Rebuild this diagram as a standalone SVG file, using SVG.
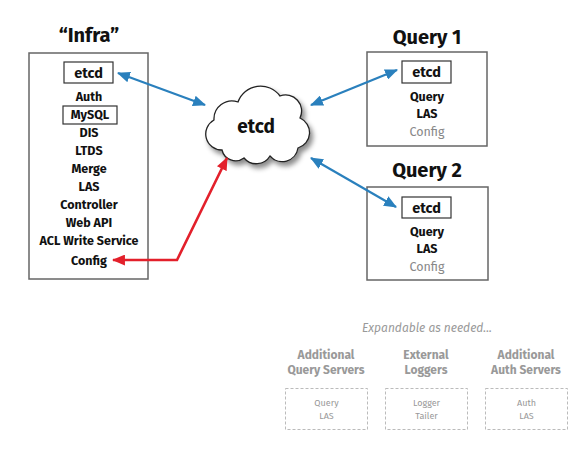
<svg xmlns="http://www.w3.org/2000/svg" width="582" height="450" viewBox="0 0 582 450">
<style>
text{font-family:"Fira Sans","Noto Sans","Liberation Sans",sans-serif;text-anchor:middle;font-weight:bold;fill:#111}
.title{font-size:20px}
.item{font-size:12.5px}
.etcd{font-size:14.5px}
.dim{font-weight:normal;fill:#888}
.box{fill:#fff;stroke:#666;stroke-width:1.5}
.ibox{fill:#fff;stroke:#333;stroke-width:1.2}
.gh{font-size:12px;fill:#999}
.dash{fill:none;stroke:#bbb;stroke-width:1;stroke-dasharray:3 2}
.small{font-size:9px;font-weight:normal;fill:#999}
.blue{stroke:#2a80bd;stroke-width:2.2;fill:none;marker-start:url(#ab);marker-end:url(#ab)}
.red{stroke:#e3202b;stroke-width:2.6;fill:none;marker-start:url(#ar);marker-end:url(#ar)}
</style>
<defs>
<marker id="ab" viewBox="0 0 12 10" refX="11" refY="5" markerWidth="13" markerHeight="11" markerUnits="userSpaceOnUse" orient="auto-start-reverse"><path d="M0,0 L12,5 L0,10 Z" fill="#2a80bd"/></marker>
<marker id="ar" viewBox="0 0 12 10" refX="11" refY="5" markerWidth="13" markerHeight="11" markerUnits="userSpaceOnUse" orient="auto-start-reverse"><path d="M0,0 L12,5 L0,10 Z" fill="#e3202b"/></marker>
<filter id="sh" x="-20%" y="-20%" width="150%" height="150%"><feDropShadow dx="3" dy="4" stdDeviation="2.5" flood-color="#000" flood-opacity="0.45"/></filter>
</defs>

<g id="infra">
<text class="title" x="89" y="42">“Infra”</text>
<rect class="box" x="29" y="53" width="119" height="226"/>
<rect class="ibox" x="64" y="62" width="49" height="21"/>
<text class="etcd" x="88.5" y="78">etcd</text>
<text class="item" x="89" y="101">Auth</text>
<rect class="ibox" x="63" y="106" width="54" height="18"/>
<text class="item" x="90" y="119">MySQL</text>
<text class="item" x="89" y="137">DIS</text>
<text class="item" x="89" y="155">LTDS</text>
<text class="item" x="89" y="173">Merge</text>
<text class="item" x="89" y="191">LAS</text>
<text class="item" x="89" y="209">Controller</text>
<text class="item" x="89" y="227">Web API</text>
<text class="item" x="89" y="245">ACL Write Service</text>
<text class="item" x="89" y="265">Config</text>
</g>

<g id="cloud">
<path filter="url(#sh)" d="M222,150 A16,16 0 0 1 214,120 A18,18 0 0 1 238,102 A24,24 0 0 1 280,96 A16,16 0 0 1 300,118 A16,16 0 0 1 298,148 A16,16 0 0 1 270,156 A16,16 0 0 1 244,158 A14,14 0 0 1 222,150 Z" fill="#fff" stroke="#222" stroke-width="1.3"/>
<text x="256" y="133" style="font-size:19px">etcd</text>
</g>

<g id="query1">
<text class="title" x="427" y="44">Query 1</text>
<rect class="box" x="367" y="52" width="120" height="94"/>
<rect class="ibox" x="402" y="61" width="49" height="22"/>
<text class="etcd" x="426.5" y="77">etcd</text>
<text class="item" x="427" y="101">Query</text>
<text class="item" x="427" y="118">LAS</text>
<text class="item dim" x="427" y="136">Config</text>
</g>

<g id="query2">
<text class="title" x="427" y="177">Query 2</text>
<rect class="box" x="367" y="187" width="121" height="93"/>
<rect class="ibox" x="402" y="197" width="49" height="21"/>
<text class="etcd" x="426.5" y="213">etcd</text>
<text class="item" x="427" y="236">Query</text>
<text class="item" x="427" y="253">LAS</text>
<text class="item dim" x="427" y="271">Config</text>
</g>

<g id="expand">
<text x="427" y="332" style="font-size:12px;font-style:italic;font-weight:normal;fill:#999">Expandable as needed...</text>
</g>
<g id="addquery">
<text class="gh" x="326" y="359">Additional</text>
<text class="gh" x="326" y="374">Query Servers</text>
<rect class="dash" x="285.5" y="388.5" width="82" height="41"/>
<text class="small" x="326.5" y="406">Query</text>
<text class="small" x="326.5" y="419">LAS</text>
</g>
<g id="loggers">
<text class="gh" x="426" y="359">External</text>
<text class="gh" x="426" y="374">Loggers</text>
<rect class="dash" x="385.5" y="388.5" width="82" height="41"/>
<text class="small" x="426.5" y="406">Logger</text>
<text class="small" x="426.5" y="419">Tailer</text>
</g>
<g id="addauth">
<text class="gh" x="526" y="359">Additional</text>
<text class="gh" x="526" y="374">Auth Servers</text>
<rect class="dash" x="485.5" y="388.5" width="82" height="41"/>
<text class="small" x="526.5" y="406">Auth</text>
<text class="small" x="526.5" y="419">LAS</text>
</g>

<g id="connectors">
<line class="blue" x1="118" y1="73" x2="205" y2="105"/>
<line class="blue" x1="311" y1="105" x2="397" y2="70"/>
<line class="blue" x1="311" y1="158" x2="396" y2="207"/>
<polyline class="red" points="113,260 177,260 227,158"/>
</g>
</svg>
